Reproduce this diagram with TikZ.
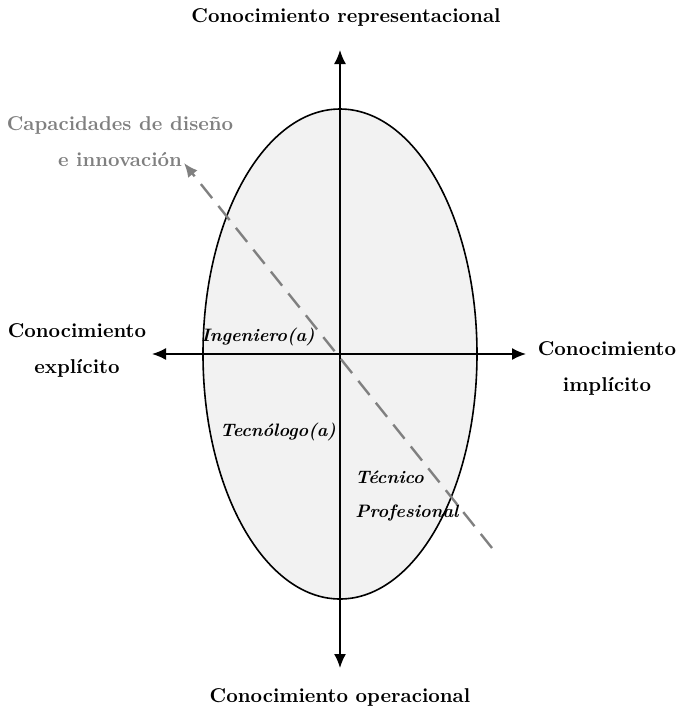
\documentclass[tikz,border=0pt]{standalone}
\usepackage[dvipsnames]{xcolor}
\usepackage{tikz}
\usetikzlibrary{arrows.meta, calc}

\begin{document}
\begin{tikzpicture}[x=0.5pt, y=-0.5pt, >={Latex[length=7pt, width=6pt]}, thick,
    axislabel/.style = {font=\bfseries, align=center},
    rolelabel/.style = {font=\small\bfseries\itshape},
    dashedarrow/.style = {->, dashed, gray, line width=1.2pt, dash pattern=on 9pt off 5pt}]
            \useasboundingbox (0,0) rectangle (678,714);

            % Ellipse
            \coordinate (origin) at (340,354);
            \draw [fill=gray!10, line width=0.8pt] (origin) ellipse [x radius=137, y radius=245];

            % Axes
            \coordinate (top) at (340,50);
            \coordinate (bottom) at (340,668);
            \coordinate (left) at (152,354);
            \coordinate (right) at (526,354);
            \draw [->] (origin) -- (top);
            \draw [->] (origin) -- (bottom);
            \draw [->] (origin) -- (left);
            \draw [->] (origin) -- (right);

            \node [axislabel] (representacional) at (346,17) {Conocimiento representacional};
            \node [axislabel] (operacional) at (340,697) {Conocimiento operacional};
            \node [axislabel] (explicito) at (77,350) {Conocimiento\\[6pt]explícito};
            \node [axislabel] (implicito) at (607,368) {Conocimiento\\[6pt]implícito};

            % Design line
            \coordinate (dashStart) at (492,548);
            \coordinate (dashEnd) at (184,163);
            \draw [dashedarrow] (dashStart) -- (dashEnd);
            \node [axislabel, text=gray] (capacidades) at (120,142) {Capacidades de diseño\\[6pt]e innovación};

            % Roles
            \node [rolelabel] (ingeniero) at (258,337) {Ingeniero(a)};
            \node [rolelabel] (tecnologo) at (278,432) {Tecnólogo(a)};
            \node [rolelabel, align=left, anchor=west] (tecnico) at (348,496) {Técnico\\[6pt]Profesional};
        \end{tikzpicture}
\end{document}
